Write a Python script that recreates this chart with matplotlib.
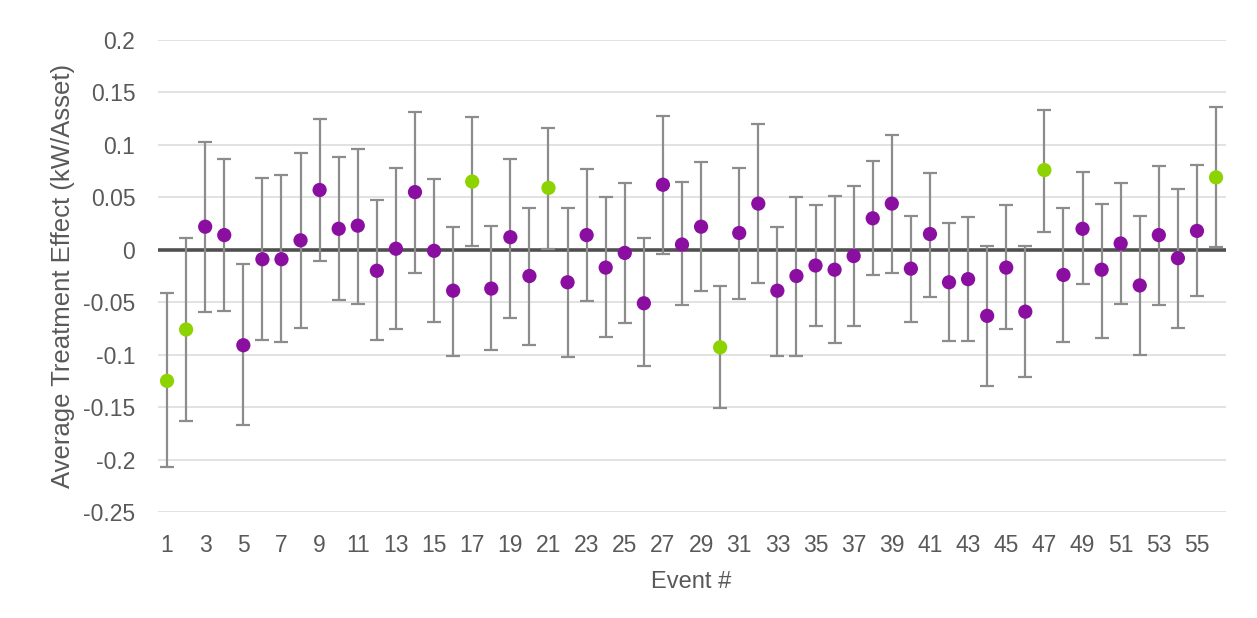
import numpy as np
import matplotlib
matplotlib.use("Agg")
import matplotlib.pyplot as plt

# ---------------------------------------------------------------------------
# Data
# ---------------------------------------------------------------------------
events = list(range(1, 57))

effect = [-0.125, -0.076, 0.022, 0.014, -0.091, -0.009, -0.009, 0.009, 0.057, 0.020,
          0.023, -0.020, 0.001, 0.055, -0.001, -0.039, 0.065, -0.037, 0.012, -0.025,
          0.059, -0.031, 0.014, -0.017, -0.003, -0.051, 0.062, 0.005, 0.022, -0.093,
          0.016, 0.044, -0.039, -0.025, -0.015, -0.019, -0.006, 0.030, 0.044, -0.018,
          0.015, -0.031, -0.028, -0.063, -0.017, -0.059, 0.076, -0.024, 0.020, -0.019,
          0.006, -0.034, 0.014, -0.008, 0.018, 0.069]

ci_upper = [-0.041, 0.011, 0.103, 0.087, -0.014, 0.068, 0.071, 0.092, 0.125, 0.088,
            0.096, 0.047, 0.078, 0.131, 0.067, 0.022, 0.127, 0.023, 0.087, 0.040,
            0.116, 0.040, 0.077, 0.050, 0.064, 0.011, 0.128, 0.065, 0.084, -0.035,
            0.078, 0.120, 0.022, 0.050, 0.043, 0.051, 0.061, 0.085, 0.109, 0.032,
            0.073, 0.026, 0.031, 0.004, 0.043, 0.004, 0.133, 0.040, 0.074, 0.044,
            0.064, 0.032, 0.080, 0.058, 0.081, 0.136]

ci_lower = [-0.207, -0.163, -0.059, -0.058, -0.167, -0.086, -0.088, -0.075, -0.011, -0.048,
            -0.052, -0.086, -0.076, -0.022, -0.069, -0.101, 0.004, -0.096, -0.065, -0.091,
            0.001, -0.102, -0.049, -0.083, -0.070, -0.111, -0.004, -0.053, -0.039, -0.151,
            -0.047, -0.032, -0.101, -0.101, -0.073, -0.089, -0.073, -0.024, -0.022, -0.069,
            -0.045, -0.087, -0.087, -0.130, -0.076, -0.121, 0.017, -0.088, -0.033, -0.084,
            -0.052, -0.100, -0.053, -0.075, -0.044, 0.003]

# events whose interval does not cross zero
significant = [1, 2, 17, 21, 30, 47, 56]

y_ticks = [-0.25, -0.2, -0.15, -0.1, -0.05, 0, 0.05, 0.1, 0.15, 0.2]
y_ticklabels = ["-0.25", "-0.2", "-0.15", "-0.1", "-0.05", "0", "0.05", "0.1", "0.15", "0.2"]
x_ticks = list(range(1, 57, 2))

PURPLE = "#8A0FA0"
GREEN = "#8DD300"
BAR_GREY = "#8C8C8C"
TEXT = "#595959"

plt.rcParams["font.family"] = ["Liberation Sans", "DejaVu Sans"]

fig = plt.figure(figsize=(12.57, 6.18), dpi=100)
ax = fig.add_axes([0.1253, 0.1715, 0.8497, 0.7638])

x = np.array(events)
y = np.array(effect)
lo = y - np.array(ci_lower)
hi = np.array(ci_upper) - y

ax.errorbar(x, y, yerr=[lo, hi], fmt="none", ecolor=BAR_GREY,
            elinewidth=1.6, capsize=5, capthick=1.6, zorder=3)

colors = [GREEN if e in significant else PURPLE for e in events]
ax.scatter(x, y, s=105, c=colors, zorder=4, linewidths=0)

# gridlines + zero line
for t in y_ticks:
    if t != 0:
        ax.axhline(t, color="#DDDDDD", lw=1.2, zorder=1)
ax.axhline(0, color="#505050", lw=2.6, zorder=2)

ax.set_xlim(0.5, 56.5)
ax.set_ylim(-0.25, 0.2)
ax.set_yticks(y_ticks)
ax.set_yticklabels(y_ticklabels)
ax.set_xticks(x_ticks)
ax.tick_params(axis="both", length=0, labelsize=16.5, labelcolor=TEXT)
ax.tick_params(axis="x", pad=16)
ax.tick_params(axis="y", pad=16)

for s in ax.spines.values():
    s.set_visible(False)

ax.set_xlabel("Event #", fontsize=17, color=TEXT, labelpad=10)
ax.set_ylabel("Average Treatment Effect (kW/Asset)", fontsize=18.5, color=TEXT, labelpad=6)

fig.savefig("out.png", dpi=100)
